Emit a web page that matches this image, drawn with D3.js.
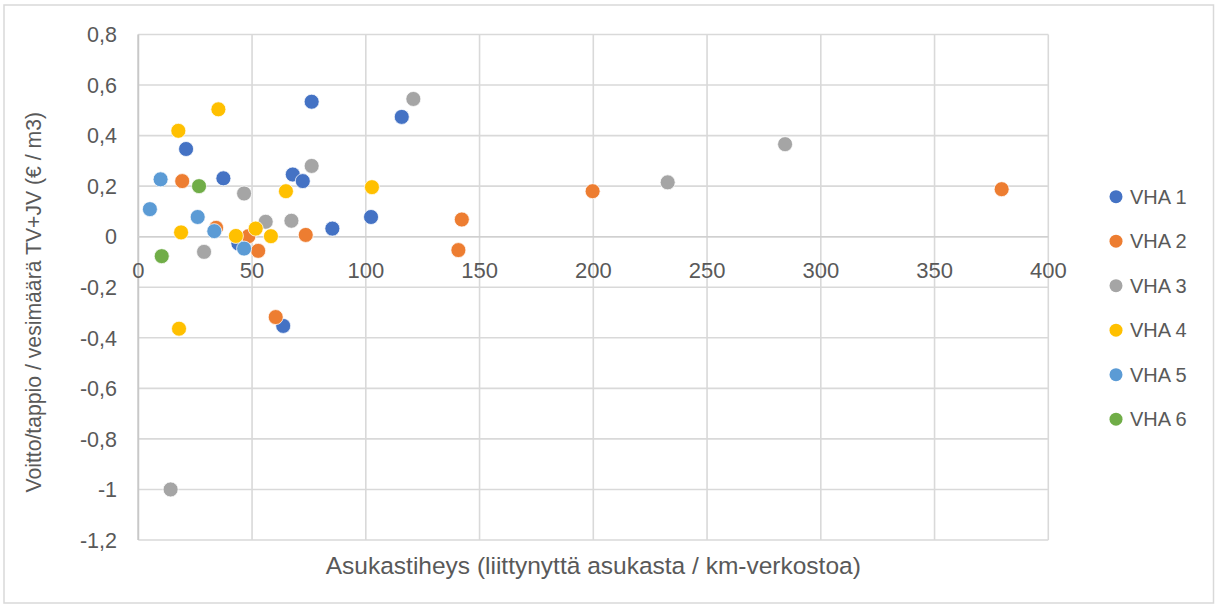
<!DOCTYPE html>
<html>
<head>
<meta charset="utf-8">
<script src="https://cdn.jsdelivr.net/npm/d3@7"></script>
<style>
  html, body { margin: 0; padding: 0; background: #fff; }
  svg text { font-family: "Liberation Sans", Arial, sans-serif; fill: #595959; }
</style>
</head>
<body>
<svg id="chart" width="1215" height="604"></svg>
<script>
// ---- data ----
const seriesNames = ["VHA 1", "VHA 2", "VHA 3", "VHA 4", "VHA 5", "VHA 6"];
const seriesColors = ["#4472C4", "#ED7D31", "#A5A5A5", "#FFC000", "#5B9BD5", "#70AD47"];

const vha1X = [76.2, 21.0, 67.9, 72.3, 37.4, 85.3, 44.0, 63.7, 115.8, 102.3];
const vha1Y = [0.534, 0.347, 0.246, 0.22, 0.231, 0.032, -0.027, -0.353, 0.474, 0.078];

const vha2X = [19.3, 34.2, 48.4, 73.6, 52.7, 60.4, 142.2, 140.7, 199.7, 379.5];
const vha2Y = [0.22, 0.035, 0.002, 0.007, -0.056, -0.318, 0.068, -0.053, 0.18, 0.188];

const vha3X = [76.2, 46.5, 56.0, 67.3, 28.9, 120.9, 232.7, 284.3, 14.2];
const vha3Y = [0.28, 0.171, 0.059, 0.063, -0.06, 0.545, 0.215, 0.366, -1.0];

const vha4X = [35.2, 17.6, 64.9, 18.8, 42.9, 51.6, 58.3, 17.9, 102.7];
const vha4Y = [0.504, 0.419, 0.18, 0.017, 0.003, 0.032, 0.002, -0.364, 0.196];

const vha5X = [9.8, 5.1, 26.1, 33.4, 46.5];
const vha5Y = [0.227, 0.109, 0.078, 0.022, -0.047];

const vha6X = [26.7, 10.3];
const vha6Y = [0.2, -0.077];

const xTicks = [0, 50, 100, 150, 200, 250, 300, 350, 400];
const yTicks = [-1.2, -1.0, -0.8, -0.6, -0.4, -0.2, 0, 0.2, 0.4, 0.6, 0.8];

const xTitle = "Asukastiheys (liittynyttä asukasta / km-verkostoa)";
const yTitle = "Voitto/tappio / vesimäärä TV+JV (€ / m3)";

const seriesX = [vha1X, vha2X, vha3X, vha4X, vha5X, vha6X];
const seriesY = [vha1Y, vha2Y, vha3Y, vha4Y, vha5Y, vha6Y];

// ---- chart ----
const svg = d3.select("#chart");
const x = d3.scaleLinear().domain([0, 400]).range([138.3, 1048.3]);
const y = d3.scaleLinear().domain([-1.2, 0.8]).range([540, 34.5]);

const fmt = v => (+v.toFixed(1)).toString().replace(".", ",");

// outer border
svg.append("rect").attr("x", 4).attr("y", 5).attr("width", 1209.5).attr("height", 598)
  .attr("fill", "#fff").attr("stroke", "#d9d9d9").attr("stroke-width", 1.5);

// gridlines
const grid = svg.append("g");
grid.selectAll("line.h").data(yTicks).join("line")
  .attr("x1", x(0)).attr("x2", x(400))
  .attr("y1", d => y(d)).attr("y2", d => y(d))
  .attr("stroke", "#d9d9d9").attr("stroke-width", 1.6);
grid.selectAll("line.v").data(xTicks).join("line")
  .attr("y1", y(-1.2)).attr("y2", y(0.8))
  .attr("x1", d => x(d)).attr("x2", d => x(d))
  .attr("stroke", "#d9d9d9").attr("stroke-width", 1.6);

// axis lines
svg.append("line").attr("x1", x(0)).attr("x2", x(0)).attr("y1", y(-1.2)).attr("y2", y(0.8))
  .attr("stroke", "#c8c8c8").attr("stroke-width", 1.8);
svg.append("line").attr("x1", x(0)).attr("x2", x(400)).attr("y1", y(0)).attr("y2", y(0))
  .attr("stroke", "#d0d0d0").attr("stroke-width", 1.6);

// y tick labels
svg.append("g").selectAll("text").data(yTicks).join("text")
  .attr("x", 117).attr("y", d => y(d)).attr("dy", "0.36em")
  .attr("text-anchor", "end").attr("font-size", 21.5)
  .text(d => fmt(d));

// x tick labels (at zero line)
svg.append("g").selectAll("text").data(xTicks).join("text")
  .attr("x", d => x(d)).attr("y", y(0) + 33).attr("dy", "0.36em")
  .attr("text-anchor", "middle").attr("font-size", 22)
  .text(d => fmt(d));

// axis titles
svg.append("text").attr("x", (x(0) + x(400)) / 2).attr("y", 565).attr("dy", "0.36em")
  .attr("text-anchor", "middle").attr("font-size", 24.5).text(xTitle);
svg.append("text").attr("transform", `translate(33,${(y(0.8) + y(-1.2)) / 2 + 15}) rotate(-90)`)
  .attr("dy", "0.36em").attr("text-anchor", "middle").attr("font-size", 21.2).text(yTitle);

// points
const pts = svg.append("g");
seriesNames.forEach((name, i) => {
  const data = seriesX[i].map((xv, j) => ({ x: xv, y: seriesY[i][j] }));
  pts.append("g").selectAll("circle").data(data).join("circle")
    .attr("cx", d => x(d.x)).attr("cy", d => y(d.y)).attr("r", 7.5)
    .attr("fill", seriesColors[i]).attr("stroke", "#fff").attr("stroke-width", 0.75);
});

// legend
const lg = svg.append("g");
seriesNames.forEach((name, i) => {
  const cy = 196.7 + i * 44.5;
  lg.append("circle").attr("cx", 1116).attr("cy", cy).attr("r", 6.5).attr("fill", seriesColors[i]);
  lg.append("text").attr("x", 1130).attr("y", cy).attr("dy", "0.36em")
    .attr("font-size", 20).text(name);
});
</script>
</body>
</html>
